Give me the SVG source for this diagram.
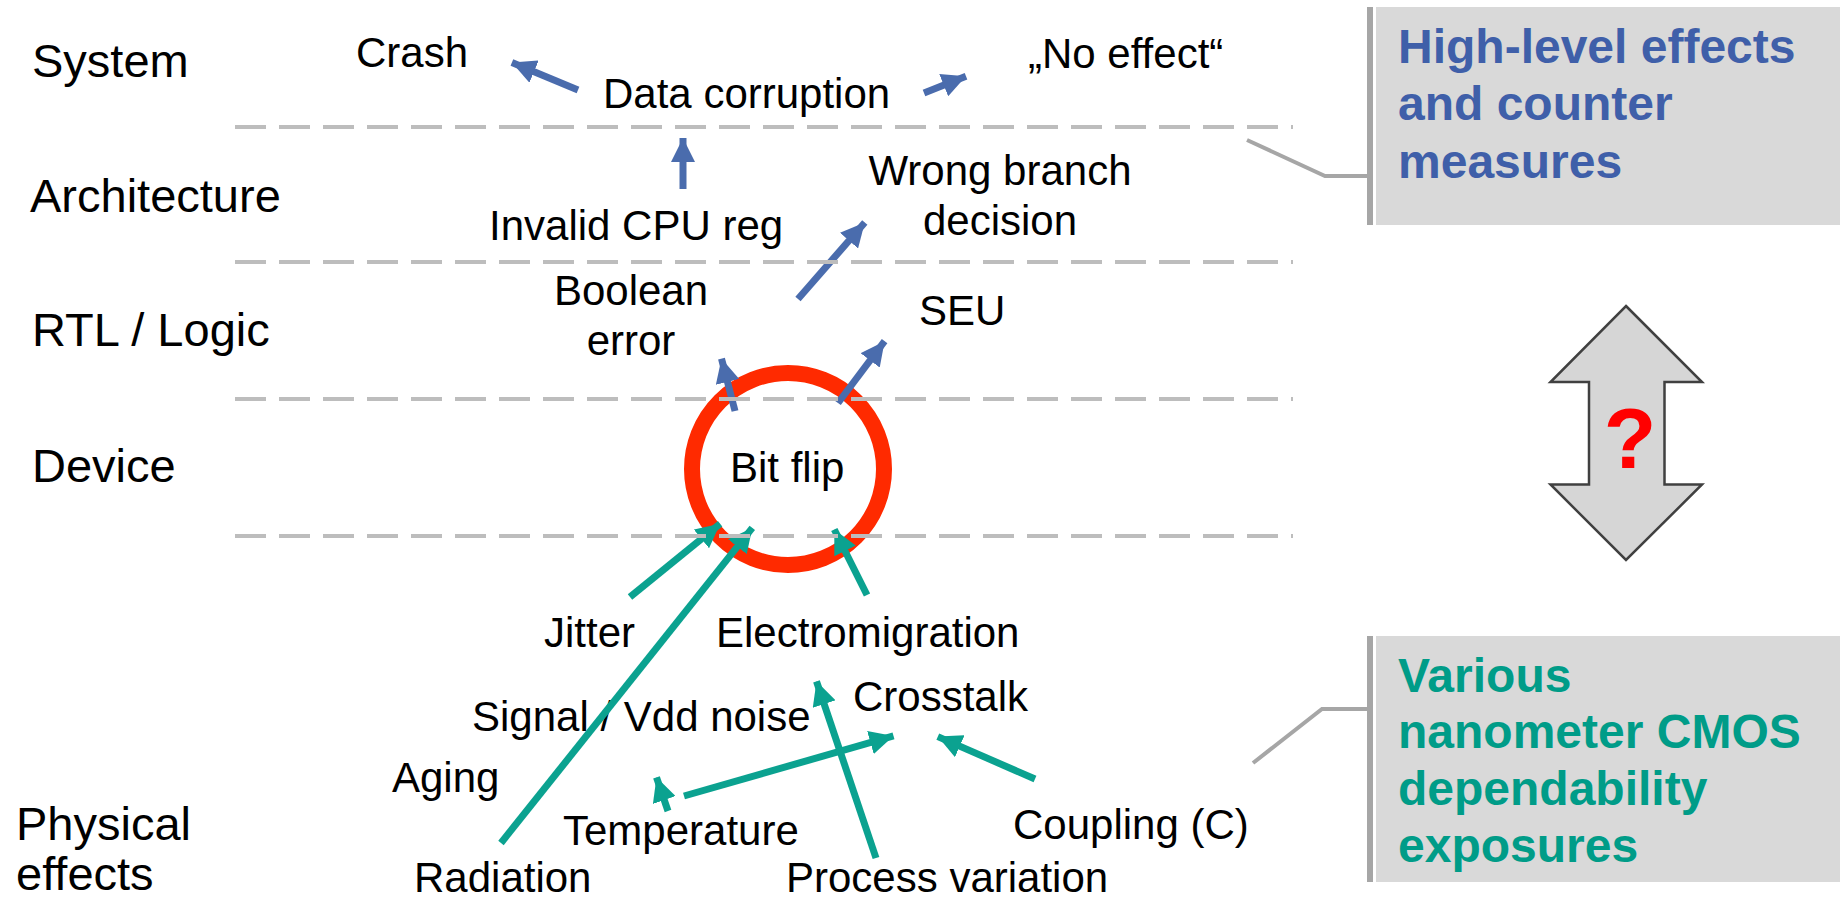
<svg xmlns="http://www.w3.org/2000/svg" width="1840" height="900" viewBox="0 0 1840 900">
  <style>
    text { font-family: "Liberation Sans", Arial, sans-serif; fill: #000; }
    .layer { font-size: 47px; }
    .node { font-size: 42px; }
    .box-title { font-size: 48px; font-weight: bold; }
    .blue-title { fill: #3f5fa9; }
    .teal-title { fill: #009c88; }
    .sep { stroke: #bdbdbd; stroke-width: 4; stroke-dasharray: 31 13; fill: none; }
    .arr-blue { stroke: #4a6cad; stroke-width: 7; fill: none; marker-end: url(#head-blue); }
    .arr-teal { stroke: #0ba290; stroke-width: 7; fill: none; marker-end: url(#head-teal); }
    .callout { stroke: #a6a6a6; stroke-width: 4; fill: none; }
    .bar { stroke: #a6a6a6; stroke-width: 6; }
    .panel { fill: #d9d9d9; }
  </style>
  <defs>
    <marker id="head-blue" markerUnits="userSpaceOnUse" viewBox="0 0 24 24" markerWidth="24" markerHeight="24" refX="24" refY="12" orient="auto">
      <path d="M0,0 L24,12 L0,24 z" fill="#4a6cad"/>
    </marker>
    <marker id="head-teal" markerUnits="userSpaceOnUse" viewBox="0 0 24 24" markerWidth="24" markerHeight="24" refX="24" refY="12" orient="auto">
      <path d="M0,0 L24,12 L0,24 z" fill="#0ba290"/>
    </marker>
  </defs>

  <rect width="1840" height="900" fill="#ffffff"/>

  <!-- abstraction layer names -->
  <g id="layers">
    <text class="layer" x="32" y="77">System</text>
    <text class="layer" x="30" y="212">Architecture</text>
    <text class="layer" x="32" y="346">RTL / Logic</text>
    <text class="layer" x="32" y="482">Device</text>
    <text class="layer" x="16" y="840">Physical</text>
    <text class="layer" x="16" y="890">effects</text>
  </g>

  <!-- Bit flip ring -->
  <g id="bitflip">
    <circle cx="788" cy="469" r="96" fill="none" stroke="#ff2a00" stroke-width="16"/>
    <text class="node" x="730" y="482">Bit flip</text>
  </g>

  <!-- effect nodes -->
  <g id="crash"><text class="node" x="356" y="67">Crash</text></g>
  <g id="data-corruption"><text class="node" x="603" y="108">Data corruption</text></g>
  <g id="no-effect"><text class="node" x="1028" y="68">„No effect“</text></g>
  <g id="invalid-cpu-reg"><text class="node" x="489" y="240">Invalid CPU reg</text></g>
  <g id="wrong-branch">
    <text class="node" x="1000" y="185" text-anchor="middle">Wrong branch</text>
    <text class="node" x="1000" y="235" text-anchor="middle">decision</text>
  </g>
  <g id="boolean-error">
    <text class="node" x="631" y="305" text-anchor="middle">Boolean</text>
    <text class="node" x="631" y="355" text-anchor="middle">error</text>
  </g>
  <g id="seu"><text class="node" x="919" y="325">SEU</text></g>

  <!-- physical causes -->
  <g id="jitter"><text class="node" x="544" y="647">Jitter</text></g>
  <g id="electromigration"><text class="node" x="716" y="647">Electromigration</text></g>
  <g id="crosstalk"><text class="node" x="853" y="711">Crosstalk</text></g>
  <g id="signal-noise"><text class="node" x="472" y="731">Signal / Vdd noise</text></g>
  <g id="aging"><text class="node" x="392" y="792">Aging</text></g>
  <g id="temperature"><text class="node" x="563" y="845">Temperature</text></g>
  <g id="coupling"><text class="node" x="1013" y="839">Coupling (C)</text></g>
  <g id="radiation"><text class="node" x="414" y="892">Radiation</text></g>
  <g id="process-variation"><text class="node" x="786" y="892">Process variation</text></g>

  <!-- connectors -->
  <g id="connectors">
    <line class="arr-blue" x1="578" y1="90" x2="511.9" y2="62.4"/>
    <line class="arr-blue" x1="924" y1="93" x2="966" y2="76.2"/>
    <line class="arr-blue" x1="683" y1="189" x2="683" y2="138"/>
    <line class="arr-blue" x1="798" y1="299" x2="864.8" y2="222.5"/>
    <line class="arr-blue" x1="735" y1="411" x2="721.5" y2="358.6"/>
    <line class="arr-blue" x1="838" y1="403" x2="884.6" y2="341.2"/>

    <line class="arr-teal" x1="630" y1="597" x2="720.1" y2="523.8"/>
    <line class="arr-teal" x1="501" y1="843" x2="752.3" y2="527.9"/>
    <line class="arr-teal" x1="867" y1="595" x2="834.3" y2="529.5"/>
    <line class="arr-teal" x1="876" y1="858" x2="816.5" y2="681.3"/>
    <line class="arr-teal" x1="668" y1="811" x2="656.5" y2="777.3"/>
    <line class="arr-teal" x1="684" y1="796" x2="893.5" y2="735.9"/>
    <line class="arr-teal" x1="1035" y1="779" x2="937.8" y2="736.6"/>
  </g>

  <!-- layer separators -->
  <g id="separators">
    <line class="sep" x1="235" y1="127" x2="1293" y2="127"/>
    <line class="sep" x1="235" y1="262" x2="1293" y2="262"/>
    <line class="sep" x1="235" y1="399" x2="1293" y2="399"/>
    <line class="sep" x1="235" y1="536" x2="1293" y2="536"/>
  </g>

  <!-- upper callout panel -->
  <g id="panel-high-level">
    <rect class="panel" x="1376" y="7" width="464" height="218"/>
    <line class="bar" x1="1370" y1="7" x2="1370" y2="225"/>
    <polyline class="callout" points="1247,140 1325,176 1370,176"/>
    <text class="box-title blue-title" x="1398" y="63">High-level effects</text>
    <text class="box-title blue-title" x="1398" y="120">and counter</text>
    <text class="box-title blue-title" x="1398" y="178">measures</text>
  </g>

  <!-- lower callout panel -->
  <g id="panel-cmos">
    <rect class="panel" x="1376" y="636" width="464" height="246"/>
    <line class="bar" x1="1370" y1="636" x2="1370" y2="882"/>
    <polyline class="callout" points="1253,763 1322,709 1370,709"/>
    <text class="box-title teal-title" x="1398" y="692">Various</text>
    <text class="box-title teal-title" x="1398" y="748">nanometer CMOS</text>
    <text class="box-title teal-title" x="1398" y="805">dependability</text>
    <text class="box-title teal-title" x="1398" y="862">exposures</text>
  </g>

  <!-- double-headed arrow with question mark -->
  <g id="link-arrow">
    <polygon points="1626,306 1702,382 1664.5,382 1664.5,484.5 1702,484.5 1626,560 1550.5,484.5 1589,484.5 1589,382 1550.5,382" fill="#d6d6d6" stroke="#404040" stroke-width="2.5" stroke-linejoin="miter"/>
    <text x="1630" y="468" text-anchor="middle" font-size="86" font-weight="bold" style="fill:#ff0000">?</text>
  </g>
</svg>
